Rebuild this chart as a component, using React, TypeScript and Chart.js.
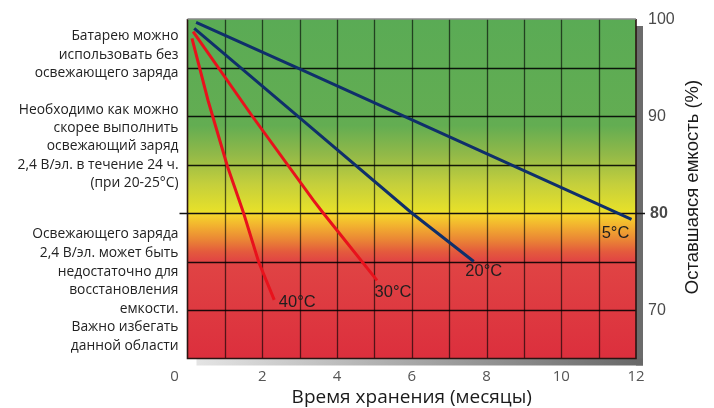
import React, { useEffect, useRef } from "react";
import { Chart, registerables } from "chart.js";

Chart.register(...registerables);

// ---- data ----
const months5C = [0.23, 3.0, 11.88];
const capacity5C = [99.66, 94.85, 79.35];
const months20C = [0.18, 3.02, 6.0, 7.66];
const capacity20C = [99.04, 89.75, 80.0, 75.0];
const months30C = [0.15, 1.73, 3.37, 3.63, 5.07];
const capacity30C = [98.7, 90.0, 81.3, 80.0, 73.05];
const months40C = [0.12, 0.55, 1.07, 1.5, 1.9, 2.32];
const capacity40C = [98.0, 91.6, 84.8, 80.0, 75.0, 71.05];

const seriesNames = ["5°C", "20°C", "30°C", "40°C"];
const xTickValues = [0, 2, 4, 6, 8, 10, 12];
const yTickValues = [100, 90, 80, 70];
const xGridValues = [1, 2, 3, 4, 5, 6, 7, 8, 9, 10, 11];
const yGridValues = [95, 90, 85, 75, 70];
const thresholdValue = 80;

const xTitle = "Время хранения (месяцы)";
const yTitle = "Оставшаяся емкость (%)";
const upperNote = [
  "Батарею можно",
  "использовать без",
  "освежающего заряда",
  "",
  "Необходимо как можно",
  "скорее выполнить",
  "освежающий заряд",
  "2,4 В/эл. в течение 24 ч.",
  "(при 20-25°C)",
];
const lowerNote = [
  "Освежающего заряда",
  "2,4 В/эл. может быть",
  "недостаточно для",
  "восстановления",
  "емкости.",
  "Важно избегать",
  "данной области",
];

const toPoints = (xs: number[], ys: number[]) => xs.map((m, i) => ({ x: m, y: ys[i] }));

const NAVY = "#0f2f6a";
const RED = "#e8121c";

const decorPlugin = {
  id: "decor",
  beforeDatasetsDraw(chart: any) {
    const { ctx, chartArea, scales } = chart;
    const { left, right, top, bottom } = chartArea;
    const x = scales.x;
    const y = scales.y;
    ctx.save();
    // shadows
    ctx.fillStyle = "#6b6b6b";
    ctx.fillRect(right, top + 7, 7, bottom - top);
    const sg = ctx.createLinearGradient(left + 9, 0, right + 7, 0);
    sg.addColorStop(0, "#e4e4e4");
    sg.addColorStop(1, "#676767");
    ctx.fillStyle = sg;
    ctx.fillRect(left + 9, bottom, right + 7 - (left + 9), 7);

    // background gradient
    const g = ctx.createLinearGradient(0, top, 0, bottom);
    const span = bottom - top;
    const stop = (v: number, c: string) => {
      const f = (y.getPixelForValue(v) - top) / span;
      g.addColorStop(Math.min(1, Math.max(0, f)), c);
    };
    stop(100, "#5aab55");
    stop(89, "#63ad52");
    stop(86, "#92b948");
    stop(83, "#c4cf3c");
    stop(80.25, "#e6e02a");
    stop(80.0, "#f6da2b");
    stop(78.7, "#f2b22f");
    stop(77.2, "#ea8435");
    stop(76, "#e45a3d");
    stop(75, "#e04444");
    stop(65, "#dc2f3d");
    ctx.fillStyle = g;
    ctx.fillRect(left, top, right - left, bottom - top);

    // grid
    ctx.lineWidth = 1.3;
    ctx.strokeStyle = "rgba(0,0,0,0.62)";
    xGridValues.forEach((v) => {
      const px = Math.round(x.getPixelForValue(v)) + 0.5;
      ctx.beginPath();
      ctx.moveTo(px, top);
      ctx.lineTo(px, bottom);
      ctx.stroke();
    });
    ctx.strokeStyle = "rgba(0,0,0,0.88)";
    yGridValues.forEach((v) => {
      const py = Math.round(y.getPixelForValue(v)) + 0.5;
      ctx.beginPath();
      ctx.moveTo(left, py);
      ctx.lineTo(right, py);
      ctx.stroke();
    });
    // border
    ctx.lineWidth = 1.6;
    ctx.strokeStyle = "#2a1412";
    ctx.beginPath();
    ctx.moveTo(left, top);
    ctx.lineTo(left, bottom);
    ctx.lineTo(right, bottom);
    ctx.lineTo(right, top);
    ctx.stroke();
    ctx.strokeStyle = "#8a8a8a";
    ctx.beginPath();
    ctx.moveTo(left, top);
    ctx.lineTo(right, top);
    ctx.stroke();
    // threshold line
    const ty = Math.round(y.getPixelForValue(thresholdValue)) + 0.5;
    ctx.strokeStyle = "#111";
    ctx.lineWidth = 1.5;
    ctx.beginPath();
    ctx.moveTo(left - 8, ty);
    ctx.lineTo(right + 9, ty);
    ctx.stroke();
    ctx.restore();
  },
  afterDatasetsDraw(chart: any) {
    const { ctx, scales } = chart;
    const x = scales.x;
    const y = scales.y;
    ctx.save();
    ctx.fillStyle = "#1e1e1e";
    ctx.font = "16.5px 'Liberation Sans', Arial, sans-serif";
    ctx.textBaseline = "middle";
    ctx.textAlign = "center";
    const offsets = [
      [-16, 14],
      [10, 10],
      [16, 12],
      [23, 3],
    ];
    chart.data.datasets.forEach((ds: any, i: number) => {
      const last = ds.data[ds.data.length - 1];
      const px = x.getPixelForValue(last.x) + offsets[i][0];
      const py = y.getPixelForValue(last.y) + offsets[i][1];
      ctx.fillText(seriesNames[i], px, py);
    });
    ctx.restore();
  },
  afterDraw(chart: any) {
    const { ctx, chartArea, scales } = chart;
    const { left, right, bottom, top } = chartArea;
    const x = scales.x;
    const y = scales.y;
    ctx.save();
    // y ticks (right)
    ctx.textBaseline = "middle";
    ctx.textAlign = "left";
    ctx.fillStyle = "#4a4a4a";
    yTickValues.forEach((v) => {
      const bold = v === thresholdValue;
      ctx.font = (bold ? "bold " : "") + "16px 'Liberation Sans', Arial, sans-serif";
      ctx.fillText(String(v), right + (bold ? 14 : 12), y.getPixelForValue(v) + 1);
    });
    // x ticks
    ctx.textAlign = "center";
    ctx.fillStyle = "#555";
    ctx.font = "15px 'Open Sans', sans-serif";
    xTickValues.forEach((v) => {
      const px = x.getPixelForValue(v) + (v === 0 ? -13 : 0);
      ctx.fillText(String(v), px, bottom + 18);
    });
    // x title
    ctx.fillStyle = "#1a1a1a";
    ctx.font = "19px 'Open Sans', sans-serif";
    ctx.fillText(xTitle, (left + right) / 2, bottom + 39);
    // y title
    ctx.save();
    ctx.translate(right + 57, 187);
    ctx.rotate(-Math.PI / 2);
    ctx.font = "18.5px 'Liberation Sans', Arial, sans-serif";
    ctx.fillText(yTitle, 0, 0);
    ctx.restore();
    // notes
    ctx.textAlign = "right";
    ctx.fillStyle = "#222";
    ctx.font = "13.8px 'Open Sans', sans-serif";
    const noteX = left - 9;
    upperNote.forEach((t, i) => {
      if (t) ctx.fillText(t, noteX, 36.5 + i * 18.3);
    });
    lowerNote.forEach((t, i) => {
      ctx.fillText(t, noteX, 234.5 + i * 18.6);
    });
    ctx.restore();
  },
};

export default function App() {
  const ref = useRef<HTMLCanvasElement | null>(null);
  useEffect(() => {
    document.body.style.margin = "0";
    const canvas = ref.current;
    if (!canvas) return;
    const chart = new Chart(canvas, {
      type: "line",
      data: {
        datasets: [
          { label: seriesNames[0], data: toPoints(months5C, capacity5C), borderColor: NAVY },
          { label: seriesNames[1], data: toPoints(months20C, capacity20C), borderColor: NAVY },
          { label: seriesNames[2], data: toPoints(months30C, capacity30C), borderColor: RED },
          { label: seriesNames[3], data: toPoints(months40C, capacity40C), borderColor: RED },
        ].map((d) => ({ ...d, borderWidth: 3, pointRadius: 0, tension: 0, fill: false })),
      },
      options: {
        responsive: false,
        maintainAspectRatio: false,
        animation: false,
        layout: { padding: { left: 187.5, right: 78, top: 19, bottom: 49.5 } },
        scales: {
          x: { type: "linear", display: false, min: 0, max: 12 },
          y: { type: "linear", display: false, min: 65, max: 100 },
        },
        plugins: { legend: { display: false }, tooltip: { enabled: false } },
      },
      plugins: [decorPlugin],
    });
    return () => chart.destroy();
  }, []);
  return (
    <div style={{ position: "absolute", left: 0, top: 0, width: 714, height: 408, background: "#fff" }}>
      <canvas ref={ref} width={714} height={408} style={{ display: "block", width: 714, height: 408 }} />
    </div>
  );
}
